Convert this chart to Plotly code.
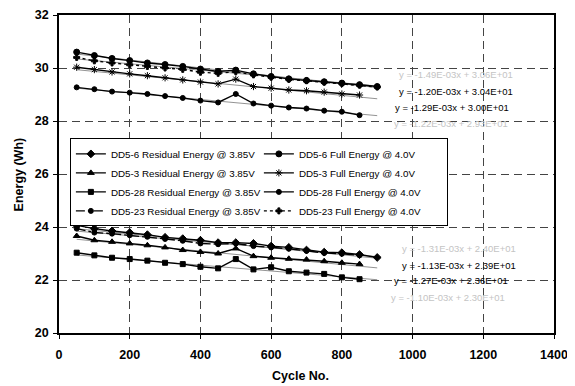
import plotly.graph_objects as go

cycles_full = [50, 100, 150, 200, 250, 300, 350, 400, 450, 500, 550, 600, 650, 700, 750, 800, 850, 900]
cycles_short = cycles_full[:17]

# Full energy @ 4.0V (upper group)
dd5_6_full = [30.60, 30.47, 30.36, 30.28, 30.19, 30.13, 30.06, 29.96, 29.87, 29.92, 29.78, 29.68, 29.59, 29.53, 29.48, 29.43, 29.37, 29.30]
dd5_23_full = [30.40, 30.27, 30.19, 30.12, 30.06, 30.00, 29.95, 29.84, 29.80, 29.86, 29.74, 29.65, 29.57, 29.52, 29.46, 29.41, 29.35, 29.28]
dd5_3_full = [30.03, 29.94, 29.85, 29.78, 29.71, 29.63, 29.55, 29.47, 29.40, 29.58, 29.30, 29.24, 29.17, 29.14, 29.09, 29.02, 28.98]
dd5_28_full = [29.27, 29.20, 29.11, 29.07, 29.02, 28.94, 28.87, 28.77, 28.70, 29.02, 28.66, 28.58, 28.51, 28.47, 28.39, 28.35, 28.22]

# Residual energy @ 3.85V (lower group)
dd5_6_res = [24.06, 23.94, 23.85, 23.79, 23.71, 23.61, 23.56, 23.50, 23.41, 23.41, 23.38, 23.28, 23.23, 23.13, 23.05, 23.03, 22.96, 22.85]
dd5_23_res = [23.94, 23.79, 23.75, 23.69, 23.63, 23.55, 23.48, 23.38, 23.35, 23.38, 23.28, 23.23, 23.18, 23.10, 23.02, 22.99, 22.93]
dd5_3_res = [23.66, 23.50, 23.44, 23.38, 23.31, 23.23, 23.13, 23.06, 23.00, 23.19, 22.90, 22.84, 22.80, 22.77, 22.71, 22.65, 22.60]
dd5_28_res = [23.03, 22.93, 22.84, 22.79, 22.73, 22.65, 22.60, 22.50, 22.44, 22.79, 22.40, 22.48, 22.33, 22.28, 22.23, 22.10, 22.03]

# Trendline equations (slope, intercept) as printed
trend_slopes = [-1.49e-3, -1.20e-3, -1.29e-3, -1.22e-3, -1.31e-3, -1.13e-3, -1.27e-3, -1.10e-3]
trend_intercepts = [30.6, 30.4, 30.0, 29.3, 24.0, 23.9, 23.6, 23.0]
trend_labels = ["y = -1.49E-03x + 3.06E+01", "y = -1.20E-03x + 3.04E+01", "y = -1.29E-03x + 3.00E+01",
                "y = -1.22E-03x + 2.93E+01", "y = -1.31E-03x + 2.40E+01", "y = -1.13E-03x + 2.39E+01",
                "y = -1.27E-03x + 2.36E+01", "y = -1.10E-03x + 2.30E+01"]
label_x = [955, 955, 946, 941, 965, 965, 941, 932]
label_y = [29.75, 29.1, 28.5, 27.9, 23.2, 22.53, 21.98, 21.35]
label_faint = [True, False, False, True, True, False, False, True]
trend_range = [50, 900]

FONT = "Liberation Sans, Arial, sans-serif"

fig = go.Figure()

series = [
    ("DD5-6 Residual Energy @ 3.85V", cycles_full, dd5_6_res, "diamond", 6, "solid"),
    ("DD5-6 Full Energy @ 4.0V", cycles_full, dd5_6_full, "circle", 6, "solid"),
    ("DD5-3 Residual Energy @ 3.85V", cycles_short, dd5_3_res, "triangle-up", 6, "solid"),
    ("DD5-3 Full Energy @ 4.0V", cycles_short, dd5_3_full, "asterisk-open", 6, "solid"),
    ("DD5-28 Residual Energy @ 3.85V", cycles_short, dd5_28_res, "square", 5, "solid"),
    ("DD5-28 Full Energy @ 4.0V", cycles_short, dd5_28_full, "circle", 5, "solid"),
    ("DD5-23 Residual Energy @ 3.85V", cycles_short, dd5_23_res, "circle", 5, "dashdot"),
    ("DD5-23 Full Energy @ 4.0V", cycles_full, dd5_23_full, "cross", 5, "dot"),
]

for s, b in zip(trend_slopes, trend_intercepts):
    fig.add_trace(go.Scatter(
        x=trend_range, y=[b + s * trend_range[0], b + s * trend_range[1]],
        mode="lines", line=dict(color="#777", width=0.8), showlegend=False, hoverinfo="skip"))

for name, xs, ys, sym, size, dash in series:
    fig.add_trace(go.Scatter(
        x=xs, y=ys, name=name, mode="lines+markers",
        line=dict(color="black", width=1.4, dash=dash),
        marker=dict(symbol=sym, size=size, color="black", line=dict(color="black", width=1))))

for txt, lx, ly, faint in zip(trend_labels, label_x, label_y, label_faint):
    fig.add_annotation(x=lx, y=ly, text=txt, showarrow=False, xanchor="left", yanchor="middle",
                       font=dict(size=9.5, color="#c4c4c4" if faint else "black", family=FONT))

title_font = dict(size=12.5, family=FONT, color="black", weight="bold")
fig.add_annotation(xref="paper", yref="paper", x=0.487, y=-0.134, text="Cycle No.", showarrow=False,
                   xanchor="center", yanchor="middle", font=title_font)
fig.add_annotation(xref="paper", yref="paper", x=-0.08, y=0.5, text="Energy (Wh)", showarrow=False,
                   xanchor="center", yanchor="middle", textangle=-90, font=title_font)

axis_common = dict(
    showline=True, linecolor="black", linewidth=1.5, mirror=True,
    ticks="outside", ticklen=4, tickcolor="black",
    showgrid=True, gridcolor="#444", gridwidth=1, griddash="8px,5px",
    zeroline=False, automargin=False, ticklabeloverflow="allow",
    tickfont=dict(size=12.5, family=FONT, color="black", weight="bold"),
)

fig.update_xaxes(range=[0, 1400], dtick=200, ticklabelstandoff=5, **axis_common)
fig.update_yaxes(range=[20, 32], dtick=2, ticklabelstandoff=2, **axis_common)

fig.update_layout(
    width=567, height=378,
    margin=dict(l=51, r=21, t=7, b=53),
    paper_bgcolor="white", plot_bgcolor="white",
    font=dict(family=FONT, color="black"),
    legend=dict(
        orientation="h", entrywidth=143, entrywidthmode="pixels",
        x=0.022, y=0.612, xanchor="left", yanchor="top",
        bgcolor="white", bordercolor="black", borderwidth=1,
        font=dict(size=9.8, family=FONT, color="black"),
        tracegroupgap=0, itemwidth=30,
    ),
)

fig.write_html("out.html")
